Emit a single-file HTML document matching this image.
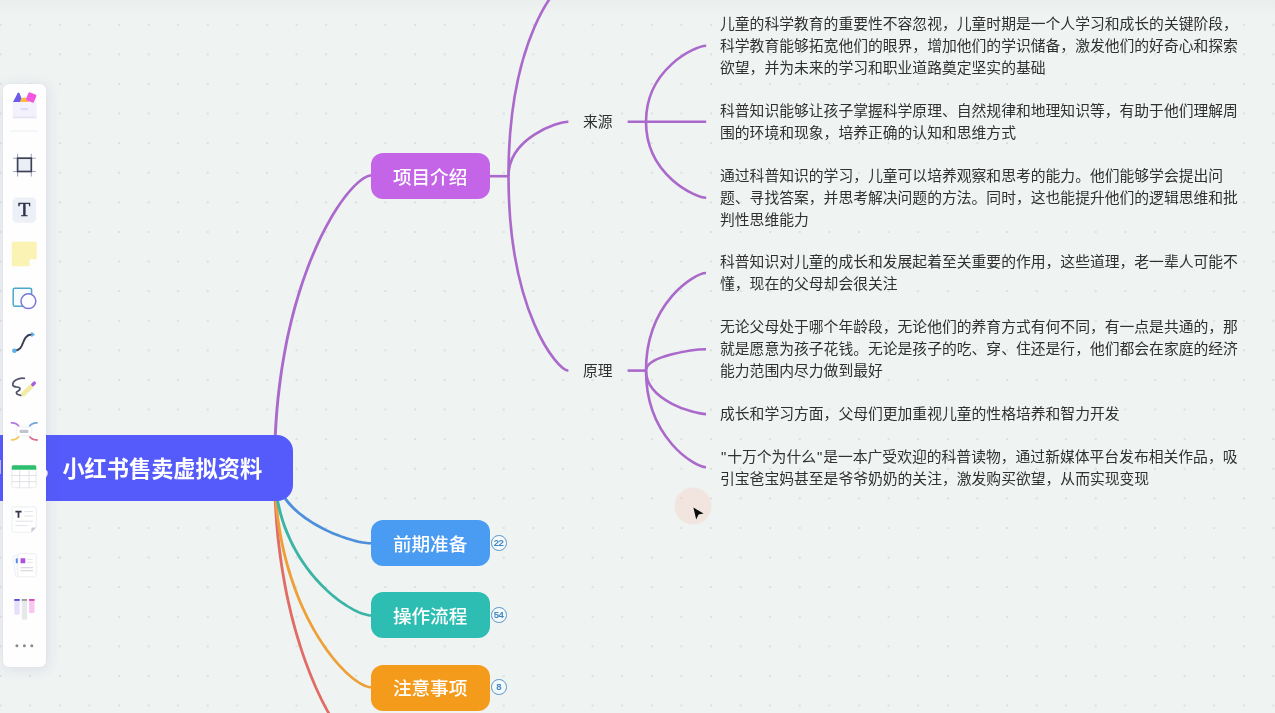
<!DOCTYPE html>
<html lang="zh-CN">
<head>
<meta charset="utf-8">
<title>小红书售卖虚拟资料 - 思维导图</title>
<style>
html,body{margin:0;padding:0}
body{width:1275px;height:713px;overflow:hidden;position:relative;background:#eff3f2;font-family:"Liberation Sans","Noto Sans CJK SC",sans-serif;color:#303030}
svg{position:absolute;left:0;top:0;overflow:visible}
.node{position:absolute;left:370.7px;width:119px;height:46.2px;line-height:49.2px;overflow:hidden;border-radius:12px;color:#fff;font-size:18.6px;font-weight:500;text-align:center;text-indent:-0.8px;white-space:nowrap}
.root{position:absolute;left:-120px;top:434.6px;width:413px;height:66.2px;line-height:69.4px;border-radius:16px;background:#555bfb;color:#fff;font-size:22.2px;font-weight:700;white-space:nowrap;text-align:right;box-sizing:border-box;padding-right:30.9px}
.sub{position:absolute;left:582.7px;font-size:14.8px;line-height:22.2px;height:22.2px;white-space:nowrap;color:#303030}
.note,.sub,.node,.root,.badge{will-change:transform}
.note{position:absolute;left:720px;width:520px;margin:0;font-size:14.8px;line-height:22.2px;color:#303030}
.cm{position:relative;left:-1.2px;top:-2px}
.q{display:inline-block;width:7.2px;text-align:center}
.badge{position:absolute;left:490.9px;width:13.6px;height:13.6px;line-height:13.8px;border:1.2px solid #5a94c8;border-radius:50%;background:#f3fafa;color:#4685c4;font-size:9.6px;font-weight:700;text-align:center;letter-spacing:-0.8px;text-indent:-0.8px}
.toolbar{position:absolute;left:3.1px;top:84px;width:42.7px;height:583px;border-radius:6px;background:#fdfefd;box-shadow:1px 2px 13px 1px rgba(80,70,150,.10),0 0 3px rgba(80,70,150,.05)}
.topshade{position:absolute;left:0;top:0;width:1275px;height:16px;background:linear-gradient(to bottom,rgba(0,0,0,.022),rgba(0,0,0,0))}
.frag{position:absolute;left:0;top:460px;width:1.4px;height:13.5px;background:rgba(255,255,255,.6)}
.cursor-halo{position:absolute;left:675.2px;top:488px;width:36px;height:36px;border-radius:50%;background:rgba(255,178,158,.21);box-shadow:0 0 1.5px rgba(255,178,158,.25)}
</style>
</head>
<body>
<svg width="1275" height="713" viewBox="0 0 1275 713" aria-hidden="true">
<defs><pattern id="dots" x="-14.2" y="-19.7" width="29.6" height="29.6" patternUnits="userSpaceOnUse"><circle cx="14.8" cy="14.8" r="0.85" fill="#cbcdd1"/></pattern></defs>
<rect width="1275" height="713" fill="url(#dots)"/>
</svg>
<div class="topshade"></div>
<div class="cursor-halo"></div>
<svg width="1275" height="713" viewBox="0 0 1275 713" aria-hidden="true">
<path d="M273.0 468.0L273.1 479.9L273.4 491.6L273.9 503.1L274.6 514.3L275.4 525.3L276.4 536.0L277.6 546.5L278.9 556.8L280.4 566.8L282.0 576.6L283.7 586.2L285.5 595.5L287.5 604.6L289.6 613.4L291.7 622.0L294.0 630.3L296.4 638.4L298.8 646.2L301.3 653.8L303.9 661.2L306.5 668.3L309.1 675.1L311.9 681.7L314.6 688.0L317.4 694.1L320.2 699.9L323.0 705.4L325.8 710.7L328.6 715.8L331.4 720.6L334.2 725.1L337.0 729.3L339.8 733.3L342.5 737.0L345.1 740.5L347.7 743.7L350.3 746.6L352.8 749.3L355.2 751.6L357.6 753.7L359.8 755.6L362.0 757.2L364.1 758.5L366.1 759.5L368.0 760.2L369.9 760.7L371.6 760.9L371.6 758.4L370.3 758.2L368.8 757.8L367.2 757.2L365.4 756.3L363.4 755.0L361.4 753.6L359.2 751.8L357.0 749.8L354.6 747.4L352.2 744.9L349.7 742.0L347.2 738.9L344.6 735.5L341.9 731.8L339.2 727.8L336.5 723.6L333.7 719.2L331.0 714.4L328.2 709.5L325.4 704.2L322.6 698.7L319.9 692.9L317.1 686.9L314.4 680.6L311.7 674.1L309.1 667.3L306.5 660.2L303.9 652.9L301.5 645.4L299.1 637.6L296.7 629.6L294.5 621.3L292.3 612.7L290.3 603.9L288.3 594.9L286.5 585.7L284.8 576.1L283.2 566.4L281.8 556.4L280.5 546.2L279.3 535.7L278.3 525.0L277.5 514.1L276.9 502.9L276.4 491.5L276.1 479.9L276.0 468.0Z" fill="#e06c65"/>
<path d="M273.0 468.0L273.1 477.0L273.4 485.8L273.9 494.4L274.6 502.9L275.4 511.2L276.4 519.3L277.6 527.2L278.9 534.9L280.4 542.5L282.0 549.9L283.7 557.1L285.5 564.1L287.5 570.9L289.6 577.6L291.8 584.1L294.0 590.3L296.4 596.4L298.8 602.3L301.3 608.1L303.9 613.6L306.5 618.9L309.2 624.1L311.9 629.0L314.7 633.8L317.5 638.4L320.3 642.8L323.1 647.0L325.9 650.9L328.7 654.7L331.5 658.3L334.3 661.7L337.1 664.9L339.9 668.0L342.6 670.8L345.2 673.4L347.9 675.8L350.4 678.0L352.9 680.0L355.3 681.8L357.7 683.3L360.0 684.7L362.1 685.9L364.2 686.9L366.2 687.6L368.1 688.2L369.9 688.5L371.6 688.6L371.6 686.1L370.2 686.0L368.7 685.8L367.0 685.3L365.2 684.5L363.3 683.6L361.2 682.5L359.1 681.2L356.8 679.6L354.5 677.9L352.1 676.0L349.6 673.8L347.1 671.5L344.5 668.9L341.8 666.1L339.1 663.2L336.4 660.0L333.6 656.7L330.9 653.1L328.1 649.4L325.3 645.4L322.5 641.3L319.8 636.9L317.0 632.4L314.3 627.7L311.7 622.8L309.0 617.7L306.4 612.4L303.9 606.9L301.4 601.2L299.0 595.4L296.7 589.3L294.5 583.1L292.3 576.7L290.3 570.1L288.3 563.3L286.5 556.4L284.8 549.2L283.2 541.9L281.8 534.4L280.5 526.7L279.3 518.9L278.3 510.8L277.5 502.6L276.9 494.2L276.4 485.7L276.1 476.9L276.0 468.0Z" fill="#eea038"/>
<path d="M273.0 468.0L273.1 474.1L273.4 480.0L273.9 485.8L274.6 491.6L275.4 497.1L276.4 502.6L277.6 508.0L278.9 513.2L280.4 518.3L282.0 523.3L283.7 528.2L285.6 532.9L287.6 537.5L289.7 542.0L291.8 546.4L294.1 550.6L296.5 554.7L298.9 558.7L301.4 562.6L304.0 566.3L306.7 569.9L309.3 573.4L312.1 576.7L314.8 579.9L317.6 583.0L320.4 585.9L323.3 588.8L326.1 591.5L328.9 594.0L331.7 596.4L334.5 598.7L337.3 600.9L340.1 602.9L342.8 604.8L345.4 606.5L348.1 608.1L350.6 609.6L353.1 611.0L355.5 612.2L357.9 613.2L360.1 614.2L362.3 614.9L364.4 615.6L366.4 616.1L368.2 616.5L370.0 616.7L371.6 616.8L371.6 614.2L370.2 614.2L368.6 614.0L366.9 613.6L365.1 613.1L363.1 612.5L361.1 611.8L358.9 610.9L356.7 609.8L354.3 608.7L351.9 607.3L349.4 605.9L346.9 604.3L344.3 602.6L341.6 600.7L338.9 598.8L336.2 596.6L333.5 594.4L330.7 592.0L327.9 589.5L325.2 586.8L322.4 584.0L319.6 581.1L316.9 578.1L314.2 574.9L311.5 571.6L308.9 568.2L306.3 564.7L303.8 561.0L301.3 557.2L298.9 553.3L296.6 549.2L294.4 545.1L292.2 540.8L290.2 536.3L288.3 531.8L286.4 527.1L284.7 522.4L283.2 517.5L281.7 512.4L280.5 507.3L279.3 502.0L278.3 496.7L277.5 491.2L276.9 485.5L276.4 479.8L276.1 474.0L276.0 468.0Z" fill="#3bb4a6"/>
<path d="M273.0 468.0L273.1 471.2L273.4 474.3L273.9 477.3L274.6 480.3L275.5 483.2L276.5 486.1L277.7 488.9L279.0 491.6L280.5 494.2L282.2 496.8L283.9 499.3L285.8 501.8L287.8 504.2L289.9 506.5L292.1 508.7L294.4 510.9L296.8 513.0L299.2 515.1L301.8 517.0L304.3 519.0L307.0 520.8L309.7 522.6L312.4 524.3L315.2 525.9L318.0 527.5L320.8 529.0L323.6 530.5L326.4 531.8L329.2 533.1L332.1 534.4L334.9 535.5L337.6 536.6L340.4 537.6L343.1 538.6L345.7 539.5L348.4 540.3L350.9 541.1L353.4 541.7L355.8 542.4L358.1 542.9L360.4 543.4L362.5 543.8L364.5 544.1L366.5 544.3L368.3 544.5L370.0 544.6L371.6 544.6L371.6 542.1L370.1 542.1L368.5 542.0L366.8 541.8L364.9 541.6L362.9 541.2L360.9 540.8L358.7 540.4L356.4 539.8L354.0 539.2L351.6 538.6L349.1 537.8L346.6 537.0L343.9 536.1L341.3 535.2L338.6 534.1L335.9 533.1L333.1 531.9L330.4 530.7L327.6 529.4L324.8 528.0L322.0 526.6L319.3 525.1L316.6 523.6L313.8 521.9L311.2 520.3L308.6 518.5L306.0 516.7L303.5 514.8L301.0 512.9L298.6 510.9L296.3 508.8L294.1 506.7L292.0 504.5L290.0 502.3L288.1 500.0L286.3 497.6L284.6 495.2L283.0 492.8L281.6 490.2L280.4 487.6L279.2 485.0L278.3 482.3L277.5 479.6L276.8 476.8L276.4 473.9L276.1 471.0L276.0 468.0Z" fill="#4d8fda"/>
<path d="M276.0 468.0L276.1 456.1L276.4 444.4L276.9 433.0L277.5 421.8L278.3 410.8L279.3 400.1L280.5 389.6L281.8 379.3L283.2 369.3L284.8 359.5L286.5 349.9L288.3 340.6L290.3 331.6L292.3 322.8L294.5 314.2L296.7 305.9L299.1 297.8L301.5 290.0L303.9 282.4L306.5 275.1L309.1 268.0L311.7 261.2L314.4 254.7L317.1 248.4L319.9 242.3L322.6 236.5L325.4 231.0L328.2 225.7L331.0 220.7L333.7 216.0L336.5 211.5L339.2 207.3L341.9 203.3L344.6 199.6L347.2 196.2L349.7 193.1L352.2 190.2L354.6 187.6L357.0 185.3L359.2 183.2L361.4 181.5L363.4 180.0L365.4 178.7L367.2 177.8L368.8 177.2L370.3 176.8L371.6 176.7L371.6 174.2L369.9 174.3L368.0 174.8L366.1 175.5L364.1 176.5L362.0 177.8L359.8 179.4L357.6 181.3L355.2 183.4L352.8 185.8L350.3 188.5L347.7 191.4L345.1 194.6L342.5 198.1L339.8 201.8L337.0 205.8L334.2 210.0L331.4 214.6L328.6 219.4L325.8 224.4L323.0 229.7L320.2 235.3L317.4 241.1L314.6 247.2L311.9 253.6L309.1 260.2L306.5 267.1L303.9 274.2L301.3 281.5L298.8 289.1L296.4 297.0L294.0 305.1L291.7 313.5L289.6 322.1L287.5 331.0L285.5 340.1L283.7 349.4L282.0 359.0L280.4 368.8L278.9 378.9L277.6 389.2L276.4 399.8L275.4 410.5L274.6 421.6L273.9 432.8L273.4 444.3L273.1 456.0L273.0 468.0Z" fill="#aa69cb"/>
<path d="M489 176.2 H508.4" stroke="#aa69cb" stroke-width="2.6" fill="none" stroke-linecap="butt" />
<path d="M508.5 176.0 C508.5 39.5 557.6 -19.0 568.4 -19.0" stroke="#aa69cb" stroke-width="2.6" fill="none" stroke-linecap="butt" />
<path d="M508.5 176.0 C508.5 138.0 557.6 121.7 568.4 121.7" stroke="#aa69cb" stroke-width="2.6" fill="none" stroke-linecap="butt" />
<path d="M508.5 176.0 C508.5 312.2 557.6 370.6 568.4 370.6" stroke="#aa69cb" stroke-width="2.6" fill="none" stroke-linecap="butt" />
<path d="M646.0 121.8 C646.0 68.6 695.4 45.8 706.2 45.8" stroke="#aa69cb" stroke-width="2.6" fill="none" stroke-linecap="butt" />
<path d="M646.0 370.6 C646.0 302.3 695.2 273.0 706.0 273.0" stroke="#aa69cb" stroke-width="2.6" fill="none" stroke-linecap="butt" />
<path d="M646.0 370.6 C646.0 355.6 695.2 349.2 706.0 349.2" stroke="#aa69cb" stroke-width="2.6" fill="none" stroke-linecap="butt" />
<path d="M646.0 370.6 C646.0 401.1 695.2 414.1 706.0 414.1" stroke="#aa69cb" stroke-width="2.6" fill="none" stroke-linecap="butt" />
<path d="M646.0 370.6 C646.0 438.2 695.2 467.2 706.0 467.2" stroke="#aa69cb" stroke-width="2.6" fill="none" stroke-linecap="butt" />
<path d="M646.0 121.8 C646.0 175.0 695.4 197.8 706.2 197.8" stroke="#aa69cb" stroke-width="2.6" fill="none" stroke-linecap="butt" />
<path d="M627.6 121.8 H706.2" stroke="#aa69cb" stroke-width="2.6" fill="none" stroke-linecap="butt" />
<path d="M627.6 370.6 H646.1" stroke="#aa69cb" stroke-width="2.6" fill="none" stroke-linecap="butt" />
</svg>
<div class="root"><span class="cm">，</span>小红书售卖虚拟资料</div>
<div class="node" style="top:152.9px;background:#c465e8">项目介绍</div>
<div class="node" style="top:520.4px;background:#4a9cf2">前期准备</div>
<div class="node" style="top:592.4px;background:#2ebdb2">操作流程</div>
<div class="node" style="top:664.8px;background:#f59b1c;line-height:47.6px">注意事项</div>
<div class="badge" style="top:535px">22</div>
<div class="badge" style="top:607.1px">54</div>
<div class="badge" style="top:679.4px">8</div>
<div class="sub" style="top:111.3px">来源</div>
<div class="sub" style="top:360.1px">原理</div>
<p class="note" style="top:13.3px">儿童的科学教育的重要性不容忽视，儿童时期是一个人学习和成长的关键阶段，科学教育能够拓宽他们的眼界，增加他们的学识储备，激发他们的好奇心和探索欲望，并为未来的学习和职业道路奠定坚实的基础</p>
<p class="note" style="top:100.3px">科普知识能够让孩子掌握科学原理、自然规律和地理知识等，有助于他们理解周围的环境和现象，培养正确的认知和思维方式</p>
<p class="note" style="top:165.0px">通过科普知识的学习，儿童可以培养观察和思考的能力。他们能够学会提出问题、寻找答案，并思考解决问题的方法。同时，这也能提升他们的逻辑思维和批判性思维能力</p>
<p class="note" style="top:251.3px">科普知识对儿童的成长和发展起着至关重要的作用，这些道理，老一辈人可能不懂，现在的父母却会很关注</p>
<p class="note" style="top:316.1px">无论父母处于哪个年龄段，无论他们的养育方式有何不同，有一点是共通的，那就是愿意为孩子花钱。无论是孩子的吃、穿、住还是行，他们都会在家庭的经济能力范围内尽力做到最好</p>
<p class="note" style="top:403.0px">成长和学习方面，父母们更加重视儿童的性格培养和智力开发</p>
<p class="note" style="top:445.6px"><span class="q">"</span>十万个为什么<span class="q">"</span>是一本广受欢迎的科普读物，通过新媒体平台发布相关作品，吸引宝爸宝妈甚至是爷爷奶奶的关注，激发购买欲望，从而实现变现</p>
<div class="frag"></div>
<div class="toolbar"></div>
<svg width="1275" height="713" viewBox="0 0 1275 713" aria-hidden="true">
<g id="ico-assets">
<rect x="12.6" y="101.6" width="24" height="16.6" rx="2" fill="#f3f1fc"/>
<rect x="12.6" y="116.6" width="24" height="1.6" rx="0.8" fill="#e6e3f3"/>
<rect x="20.4" y="107.9" width="8" height="2.4" rx="1.2" fill="#e0dbf5"/>
<path d="M13 102 L17.6 93.2 Q18.5 91.8 19.5 93.2 L23 102 Z" fill="#6d59ea"/>
<path d="M20 102 A4.4 4.4 0 0 1 28.8 102 Z" fill="#f8ba40"/>
<rect x="26.9" y="93.2" width="8.6" height="8.6" rx="1.4" fill="#f257e0" transform="rotate(22 31.2 97.5)"/>
</g>
<rect x="10" y="130.6" width="28" height="1" fill="#eceef0"/>
<g id="ico-frame" fill="none">
<path d="M17.6 153.8 V176.4 M31.3 153.8 V176.4 M13 158.2 H35.8 M13 171.5 H35.8" stroke="#a3a6b8" stroke-width="1.1"/>
<rect x="17.6" y="158.2" width="13.7" height="13.3" fill="#eceef5" stroke="#3e4259" stroke-width="1.7"/>
</g>
<g id="ico-text">
<rect x="12.4" y="197.4" width="23.8" height="25.4" rx="1.5" fill="#eef0f7"/>
<path d="M11.4 196.4 h3 v3 h-3z M34.2 196.4 h3 v3 h-3z M11.4 220.8 h3 v3 h-3z M34.2 220.8 h3 v3 h-3z" fill="#fdfefd"/>
<text x="24.4" y="215.9" text-anchor="middle" font-family="'Liberation Serif',serif" font-weight="400" font-size="19.8" fill="#30344e" stroke="#30344e" stroke-width="0.55">T</text>
</g>
<g id="ico-note">
<path d="M12.8 241.8 H35.7 Q36.7 241.8 36.7 242.8 V259.2 L29.6 266.2 H12.8 Q11.8 266.2 11.8 265.2 V242.8 Q11.8 241.8 12.8 241.8 Z" fill="#fbf3b4"/>
<path d="M29.6 266.2 V260.4 Q29.6 259.2 30.8 259.2 H36.7 Z" fill="#ffffff"/>
</g>
<g id="ico-shape" fill="none" stroke-width="1.5">
<rect x="13.2" y="288.2" width="18.4" height="18" rx="1.6" stroke="#4ba6c8" fill="#f6fbfd"/>
<circle cx="28.4" cy="301.2" r="7.4" stroke="#7a74d8" fill="#fdfdff"/>
</g>
<g id="ico-connector">
<path d="M14.6 350.6 C25.5 350.6 20.5 335 31.5 334.6" stroke="#3a3f58" stroke-width="2" fill="none" stroke-linecap="round"/>
<circle cx="14.4" cy="350.8" r="2.3" fill="#5cb0ea"/>
<path d="M31.4 331.8 L35 334.5 L31.4 337.2 Z" fill="#5cb0ea"/>
</g>
<g id="ico-pen">
<path d="M24.3 378.3 C19 377.2 12.2 381.2 12.8 385 C13.4 388.4 20.4 385.6 20 389 C19.6 391.6 15.4 391.2 16.6 393.4 C17.4 395 19.6 395.2 21.2 395.4" stroke="#52546b" stroke-width="1.7" fill="none" stroke-linecap="round"/>
<path d="M23.4 394.6 L31.8 386.6" stroke="#e9e6da" stroke-width="4.4" stroke-linecap="round" opacity=".6"/>
<path d="M23 394 L31.6 385.8" stroke="#f3ec9f" stroke-width="4" stroke-linecap="round"/>
<path d="M32.9 384.5 L34.3 383.1" stroke="#a85be0" stroke-width="3.4" stroke-linecap="round"/>
</g>
<g id="ico-mind" fill="none" stroke-width="1.8" stroke-linecap="round">
<path d="M11.6 422.8 Q16.4 422.6 18.6 426" stroke="#b077dc"/>
<path d="M37 422.8 Q32 422.6 29.8 426" stroke="#76a3de"/>
<path d="M11.6 439.8 Q16.4 440 18.6 436.8" stroke="#f1c960"/>
<path d="M37 440 Q32 440 29.8 436.8" stroke="#dd6f8c"/>
<rect x="16.7" y="427.1" width="15" height="8.8" rx="1.5" fill="#ffffff" stroke="#ebecf0" stroke-width="0.8"/>
<rect x="19.6" y="429.8" width="8.8" height="3.2" rx="0.8" fill="#c3c5ce" stroke="none"/>
</g>
<g id="ico-table">
<rect x="11.8" y="465.3" width="24.4" height="22.4" rx="1.5" fill="#ffffff" stroke="#e3e4e8" stroke-width="0.8"/>
<path d="M11.8 466.8 Q11.8 465.3 13.3 465.3 H34.7 Q36.2 465.3 36.2 466.8 V469.8 H11.8 Z" fill="#2ebf6e"/>
<path d="M19.7 469.8 V487.7 M29.1 469.8 V487.7 M11.8 475.5 H36.2 M11.8 481.6 H36.2" stroke="#dddee2" stroke-width="0.9" fill="none"/>
</g>
<g id="ico-doc">
<path d="M13.4 506.9 H35 Q36.3 506.9 36.3 508.2 V527.4 L31.4 532.2 H13.4 Q12.1 532.2 12.1 530.9 V508.2 Q12.1 506.9 13.4 506.9 Z" fill="#ffffff" stroke="#e9eaed" stroke-width="0.8"/>
<path d="M31.4 532.2 V528.4 Q31.4 527.4 32.4 527.4 H36.3 Z" fill="#c9cbd2"/>
<path d="M15.4 511.6 H21.6 M18.5 511.6 V517.8" stroke="#34364a" stroke-width="1.8" fill="none"/>
<path d="M24.4 511.6 H33.2 M24.4 516 H33.2 M15.4 521.2 H33.2 M15.4 525.6 H27.6" stroke="#e2e3e8" stroke-width="1" fill="none"/>
</g>
<g id="ico-template">
<rect x="14" y="554.6" width="17" height="21" rx="1.5" fill="#fbfbfd" stroke="#ecedf1" stroke-width="0.8" transform="rotate(-9 22 565)"/>
<rect x="17.8" y="553.8" width="18.3" height="23" rx="1.5" fill="#ffffff" stroke="#e9eaee" stroke-width="0.8"/>
<rect x="15.8" y="558.4" width="2" height="4.8" fill="#5c8ce2"/>
<rect x="20.5" y="558.3" width="4.8" height="5" rx="0.5" fill="#b150e0"/>
<path d="M27.3 559.4 H32.9 M27.3 562.4 H32.9" stroke="#e6e6ea" stroke-width="1" fill="none"/>
<path d="M20.5 567.7 H33.2 M20.5 570.7 H33.2" stroke="#dadbe0" stroke-width="1.2" fill="none"/>
</g>
<g id="ico-kanban">
<rect x="13.2" y="598" width="7.6" height="17.8" rx="1.2" fill="#ffffff"/>
<rect x="20.6" y="598" width="7.6" height="22.8" rx="1.2" fill="#ffffff"/>
<rect x="28" y="598" width="7.6" height="16.2" rx="1.2" fill="#ffffff"/>
<rect x="14.3" y="599" width="5.4" height="15.7" rx="0.6" fill="#e6dffb"/>
<rect x="14.3" y="599" width="5.4" height="1.9" fill="#5b50da"/>
<rect x="21.7" y="599" width="5.4" height="20.7" rx="0.6" fill="#e6e8eb"/>
<rect x="21.7" y="599" width="5.4" height="1.9" fill="#9c9c9c"/>
<rect x="29.1" y="599" width="5.4" height="14.1" rx="0.6" fill="#f9c6ef"/>
<rect x="29.1" y="599" width="5.4" height="1.9" fill="#d948b2"/>
</g>
<g id="ico-more" fill="#8a8a8a">
<circle cx="16.9" cy="645.8" r="1.5"/><circle cx="24.4" cy="645.8" r="1.5"/><circle cx="31.8" cy="645.8" r="1.5"/>
</g>

<path d="M693.4 507.6 L703.6 513.4 L698.6 514.6 L696.2 519.4 Z" fill="#0b0b0b"/>
</svg>
</body>
</html>
